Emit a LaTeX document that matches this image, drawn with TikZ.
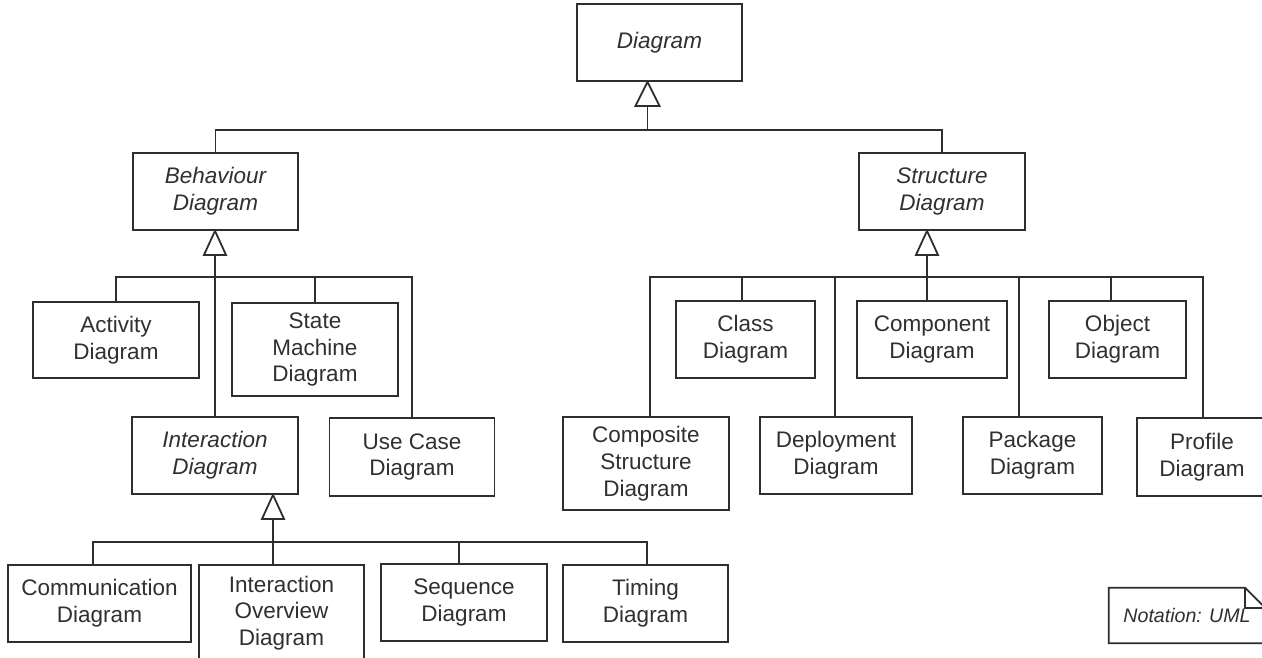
\documentclass[tikz,border=0pt]{standalone}
\usepackage{fontspec}
\setmainfont{Liberation Sans}
\definecolor{ln}{HTML}{2E2E2E}
\definecolor{tx}{HTML}{303030}
\begin{document}
\begin{tikzpicture}[x=1pt,y=-1pt,
  box/.style={draw=ln, line width=1.8pt, fill=white, inner sep=0pt, align=center,
    text=tx, font=\fontsize{22.5}{26.7}\selectfont},
  abox/.style={box, font=\fontsize{22.5}{26.7}\selectfont\itshape},
  conn/.style={draw=ln, line width=1.8pt},
  tri/.style={draw=ln, fill=white, line width=1.8pt, line join=miter}]
\clip (0,0) rectangle (1262,657);
\fill[white] (0,0) rectangle (1262,657);

% top level
\node[abox, minimum width=165pt, minimum height=77pt] (d) at (659.5,42.5) {Diagram};
\node[abox, minimum width=165pt, minimum height=77pt] (b) at (215.5,191.5) {Behaviour\\Diagram};
\node[abox, minimum width=166pt, minimum height=77pt] (s) at (942,191.5) {Structure\\Diagram};

% behaviour children
\node[box, minimum width=166pt, minimum height=76pt] (act) at (116,340) {Activity\\Diagram};
\node[box, minimum width=166pt, minimum height=93pt] (sm) at (315,349.5) {State\\Machine\\Diagram};
\node[abox, minimum width=166pt, minimum height=77pt] (inter) at (215,455.5) {Interaction\\Diagram};
\node[box, minimum width=165pt, minimum height=78pt] (uc) at (412,457) {Use Case\\Diagram};

% interaction children
\node[box, minimum width=183pt, minimum height=77pt] (comm) at (99.5,603.5) {Communication\\Diagram};
\node[box, minimum width=165pt, minimum height=96pt] (io) at (281.5,613) {Interaction\\Overview\\Diagram};
\node[box, minimum width=166pt, minimum height=77pt] (seq) at (464,602.5) {Sequence\\Diagram};
\node[box, minimum width=165pt, minimum height=77pt] (tim) at (645.5,603.5) {Timing\\Diagram};

% structure children
\node[box, minimum width=166pt, minimum height=93pt] (cs) at (646,463.5) {Composite\\Structure\\Diagram};
\node[box, minimum width=139pt, minimum height=77pt] (cls) at (745.5,339.5) {Class\\Diagram};
\node[box, minimum width=152pt, minimum height=77pt] (dep) at (836,455.5) {Deployment\\Diagram};
\node[box, minimum width=150pt, minimum height=77pt] (cmp) at (932,339.5) {Component\\Diagram};
\node[box, minimum width=139pt, minimum height=77pt] (pkg) at (1032.5,455.5) {Package\\Diagram};
\node[box, minimum width=137pt, minimum height=77pt] (obj) at (1117.5,339.5) {Object\\Diagram};
\node[box, minimum width=130pt, minimum height=78pt] (prof) at (1202,457) {Profile\\Diagram};

% note
\node[inner sep=0pt, minimum width=156pt, minimum height=55pt, text=tx,
  font=\fontsize{19.6}{23}\selectfont\itshape] (note) at (1187,615.5) {Notation: UML};
\draw[conn, line join=miter] (note.north west) -- ([xshift=-20pt]note.north east)
  -- ([yshift=-20pt]note.north east) -- (note.south east) -- (note.south west) -- cycle;
\draw[conn, line join=miter] ([xshift=-20pt]note.north east) -- ([xshift=-20pt,yshift=-20pt]note.north east)
  -- ([yshift=-20pt]note.north east);

% junction coordinates
\coordinate (j0) at (647.5,130);
\coordinate (j1) at (215,277);
\coordinate (j2) at (273,542);
\coordinate (j3) at (927,277);

% level 0
\draw[conn] (b.north) |- (j0) -| (s.north);
\draw[conn] (j0) -- (d.south -| j0);
\draw[tri] (d.south -| j0) -- ++(-12,24) -- ++(24,0) -- cycle;

% behaviour
\draw[conn] (act.north) |- (j1) -| (uc.north);
\draw[conn] (sm.north) -- (sm.north |- j1);
\draw[conn] (inter.north) -- (j1) -- (b.south -| j1);
\draw[tri] (b.south -| j1) -- ++(-11,24) -- ++(22,0) -- cycle;

% interaction
\coordinate (tc) at (93,542);
\coordinate (ts) at (459,542);
\coordinate (tt) at (647,542);
\draw[conn] (tc |- comm.north) -- (tc) -- (tt) -- (tt |- tim.north);
\draw[conn] (ts) -- (ts |- seq.north);
\draw[conn] (io.north -| j2) -- (j2) -- (inter.south -| j2);
\draw[tri] (inter.south -| j2) -- ++(-11,24) -- ++(22,0) -- cycle;

% structure
\coordinate (tcs) at (650,277);
\coordinate (tcl) at (742,277);
\coordinate (tdp) at (835,277);
\coordinate (tpk) at (1019,277);
\coordinate (tob) at (1111,277);
\coordinate (tpr) at (1203,277);
\draw[conn] (tcs |- cs.north) -- (tcs) -- (tpr) -- (tpr |- prof.north);
\draw[conn] (tcl) -- (tcl |- cls.north);
\draw[conn] (tdp) -- (tdp |- dep.north);
\draw[conn] (tpk) -- (tpk |- pkg.north);
\draw[conn] (tob) -- (tob |- obj.north);
\draw[conn] (cmp.north -| j3) -- (j3) -- (s.south -| j3);
\draw[tri] (s.south -| j3) -- ++(-11,24) -- ++(22,0) -- cycle;
\end{tikzpicture}
\end{document}
